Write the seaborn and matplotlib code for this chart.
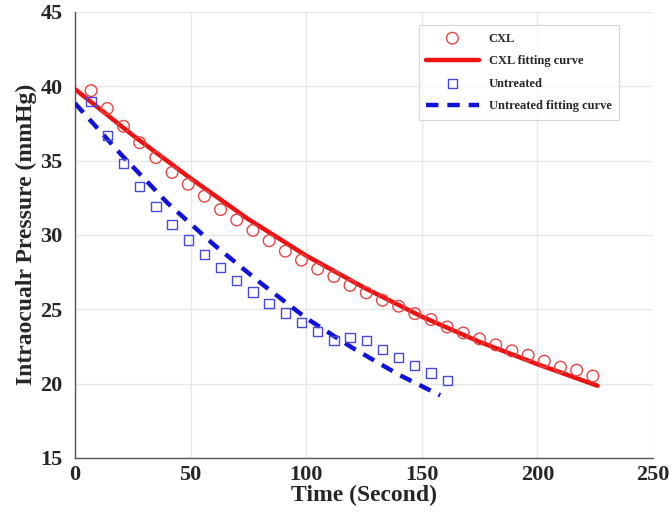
import numpy as np
import pandas as pd
import matplotlib
matplotlib.use("Agg")
import matplotlib.pyplot as plt
import seaborn as sns

## measured data
cxl_time = [7, 14, 21, 28, 35, 42, 49, 56, 63, 70, 77, 84, 91, 98, 105, 112,
            119, 126, 133, 140, 147, 154, 161, 168, 175, 182, 189, 196, 203, 210, 217, 224]
cxl_iop = [39.7, 38.5, 37.3, 36.2, 35.2, 34.2, 33.4, 32.6, 31.7, 31.0, 30.3, 29.6,
           28.9, 28.3, 27.7, 27.2, 26.6, 26.1, 25.6, 25.2, 24.7, 24.3, 23.8, 23.4,
           23.0, 22.6, 22.2, 21.9, 21.5, 21.1, 20.9, 20.5]

untreated_time = [7, 14, 21, 28, 35, 42, 49, 56, 63, 70, 77, 84, 91, 98, 105, 112,
                  119, 126, 133, 140, 147, 154, 161]
untreated_iop = [38.95, 36.7, 34.8, 33.25, 31.9, 30.7, 29.65, 28.7, 27.8, 26.95, 26.15,
                 25.4, 24.75, 24.1, 23.5, 22.9, 23.1, 22.9, 22.3, 21.75, 21.2, 20.7, 20.2]

## fitting curves
cxl_fit_time = [0, 25, 50, 75, 100, 125, 150, 175, 200, 226]
cxl_fit_iop = [39.8, 36.7, 33.8, 31.05, 28.6, 26.45, 24.5, 22.8, 21.3, 19.85]

untreated_fit_time = [0, 20, 40, 60, 80, 100, 120, 140, 158]
untreated_fit_iop = [38.85, 35.4, 32.15, 29.35, 26.8, 24.4, 22.4, 20.6, 19.2]

sns.set_style("whitegrid")
plt.rcParams['font.family'] = ['Liberation Serif', 'DejaVu Serif']
plt.rcParams['font.weight'] = 'bold'

fig = plt.figure(figsize=(6.69, 5.15), dpi=100)
ax = fig.add_axes([0.112, 0.111, 0.864, 0.866])

cxl = pd.DataFrame({"t": cxl_time, "p": cxl_iop})
unt = pd.DataFrame({"t": untreated_time, "p": untreated_iop})
cxl_fit = pd.DataFrame({"t": cxl_fit_time, "p": cxl_fit_iop})
unt_fit = pd.DataFrame({"t": untreated_fit_time, "p": untreated_fit_iop})

sns.lineplot(data=cxl_fit, x="t", y="p", ax=ax, color="#ee1111", lw=3.2,
             label="CXL fitting curve", zorder=3)
sns.lineplot(data=unt_fit, x="t", y="p", ax=ax, color="#1111dd", lw=3.2,
             label="Untreated fitting curve", zorder=3)
ax.lines[1].set_dashes([2.8, 2.0])
sns.scatterplot(data=cxl, x="t", y="p", ax=ax, marker="o", s=70,
                facecolor="none", edgecolor="#e84444", linewidth=1.0,
                label="CXL", zorder=4)
sns.scatterplot(data=unt, x="t", y="p", ax=ax, marker="s", s=45,
                facecolor="none", edgecolor="#4a4ad8", linewidth=1.0,
                label="Untreated", zorder=4)

ax.set_xlim(0, 250)
ax.set_ylim(15, 45)
ax.set_xticks([0, 50, 100, 150, 200, 250])
ax.set_yticks([15, 20, 25, 30, 35, 40, 45])
ax.tick_params(axis='x', labelsize=16, length=0, pad=5)
ax.tick_params(axis='y', labelsize=16, length=0, pad=9)
for lab in ax.get_xticklabels() + ax.get_yticklabels():
    lab.set_fontweight('bold')
ax.set_xlabel("Time (Second)", fontsize=17, fontweight='bold', labelpad=0)
ax.set_ylabel("Intraocualr Pressure (mmHg)", fontsize=17, fontweight='bold', labelpad=2)

ax.grid(True, color="#e6e6e6", lw=1.0)
for side in ["top", "right"]:
    ax.spines[side].set_visible(False)
for side in ["left", "bottom"]:
    ax.spines[side].set_color("#555555")
    ax.spines[side].set_linewidth(1.0)

handles, labels = ax.get_legend_handles_labels()
order = [labels.index(n) for n in ["CXL", "CXL fitting curve", "Untreated", "Untreated fitting curve"]]
leg = ax.legend([handles[i] for i in order], [labels[i] for i in order],
                loc="upper right", bbox_to_anchor=(619 / 669, 1 - 25 / 515),
                bbox_transform=fig.transFigure, borderaxespad=0,
                prop={'family': 'Liberation Serif', 'weight': 'bold', 'size': 9},
                frameon=True, fancybox=False, edgecolor="#cccccc",
                handlelength=4.2, labelspacing=0.85, borderpad=0.6)
leg.get_frame().set_linewidth(0.8)

fig.savefig("out.png", dpi=100)
